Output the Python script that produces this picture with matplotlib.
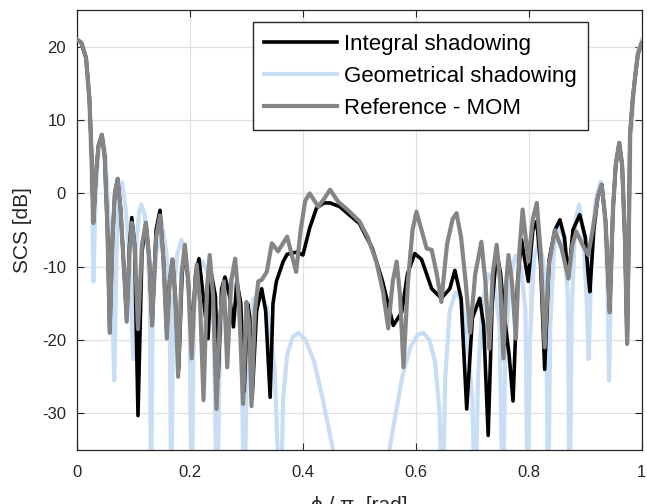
import matplotlib
matplotlib.use("Agg")
import matplotlib.pyplot as plt

plt.rcParams["font.family"] = ["Liberation Sans", "DejaVu Sans"]
plt.rcParams["axes.unicode_minus"] = False

# Reference - MOM (grey)
x_mom = [0, 0.008, 0.016, 0.022, 0.026, 0.029, 0.034, 0.038, 0.044, 0.049,
         0.054, 0.058, 0.063, 0.067, 0.072, 0.077, 0.083, 0.088, 0.093, 0.097,
         0.102, 0.108, 0.115, 0.122, 0.128, 0.133, 0.14, 0.147, 0.153, 0.159,
         0.164, 0.169, 0.174, 0.179, 0.185, 0.191, 0.197, 0.203, 0.208, 0.212,
         0.218, 0.224, 0.23, 0.235, 0.241, 0.247, 0.253, 0.26, 0.266, 0.273,
         0.28, 0.287, 0.294, 0.3, 0.305, 0.309, 0.315, 0.321, 0.327, 0.336,
         0.345, 0.356, 0.372, 0.388, 0.396, 0.404, 0.412, 0.427, 0.437, 0.448,
         0.462, 0.48, 0.5, 0.515, 0.53, 0.542, 0.551, 0.559, 0.566, 0.572,
         0.578, 0.586, 0.594, 0.601, 0.61, 0.619, 0.628, 0.637, 0.645, 0.655,
         0.665, 0.672, 0.68, 0.688, 0.696, 0.705, 0.716, 0.723, 0.73, 0.736,
         0.743, 0.749, 0.755, 0.76, 0.764, 0.77, 0.777, 0.783, 0.789, 0.799,
         0.807, 0.814, 0.821, 0.828, 0.835, 0.846, 0.858, 0.87, 0.877, 0.884,
         0.895, 0.905, 0.913, 0.922, 0.929, 0.936, 0.943, 0.949, 0.954, 0.96,
         0.965, 0.97, 0.974, 0.977, 0.979, 0.984, 0.988, 0.993, 1.0]
y_mom = [21, 20.5, 18.5, 13, 5, -4, 3, 6.5, 8, 5,
         -5, -19, -6, 0, 2, -2, -10, -17.5, -8, -4,
         -7, -18.5, -7, -4, -9, -18, -6, -3, -9, -19.8,
         -12, -9, -14, -25, -11, -7, -12, -22.5, -14, -9.7,
         -15, -28.2, -13, -8.4, -14, -29.4, -17, -12, -23.7, -12,
         -8.9, -15, -28.7, -14.8, -18, -29, -16, -12, -11.8, -10.7,
         -6.8, -7.9, -5.9, -10.7, -5, -1, 0, -1.8, -0.8, 0.5,
         -1.1, -2.3, -3.8, -6, -9.3, -13.5, -18.4, -12, -9.3, -14,
         -23.7, -12, -5, -2.5, -5, -7.5, -7.7, -11, -14.8, -7,
         -3.5, -2.7, -6, -12, -19, -11, -6.6, -12, -21.2, -11,
         -7, -12, -22.5, -12, -8.4, -12, -19.8, -8, -2.2, -9.3,
         -3.5, -1.3, -8, -21, -10, -5, -7.5, -11.6, -7, -5.2,
         -7, -8.4, -5, -0.5, 1.2, -4, -16.2, -2, 4, 6.9,
         4, -6, -20.5, -5.6, 8, 13, 15.8, 19, 20.5]

# Integral shadowing (black)
x_int = [0, 0.008, 0.016, 0.022, 0.026, 0.029, 0.034, 0.038, 0.044, 0.049,
         0.054, 0.058, 0.063, 0.067, 0.072, 0.077, 0.083, 0.088, 0.093, 0.097,
         0.102, 0.108, 0.115, 0.122, 0.128, 0.133, 0.14, 0.147, 0.153, 0.159,
         0.164, 0.169, 0.174, 0.18, 0.186, 0.191, 0.197, 0.203, 0.21, 0.216,
         0.222, 0.232, 0.238, 0.245, 0.25, 0.256, 0.262, 0.27, 0.277, 0.283,
         0.29, 0.296, 0.302, 0.306, 0.31, 0.318, 0.327, 0.334, 0.342, 0.347,
         0.353, 0.365, 0.372, 0.389, 0.4, 0.412, 0.424, 0.437, 0.448, 0.465,
         0.5, 0.523, 0.541, 0.56, 0.575, 0.585, 0.598, 0.61, 0.628, 0.645,
         0.66, 0.669, 0.68, 0.69, 0.7, 0.713, 0.72, 0.728, 0.735, 0.743,
         0.75, 0.757, 0.765, 0.772, 0.78, 0.787, 0.799, 0.807, 0.814, 0.821,
         0.828, 0.836, 0.846, 0.855, 0.863, 0.87, 0.878, 0.89, 0.9, 0.905,
         0.908, 0.915, 0.922, 0.929, 0.936, 0.943, 0.949, 0.954, 0.96, 0.965,
         0.97, 0.974, 0.977, 0.979, 0.984, 0.988, 0.993, 1.0]
y_int = [21, 20.5, 18.5, 13, 5, -4, 3, 6.5, 8, 5,
         -5, -19, -6, 0, 2, -2, -10, -17, -7, -3.3,
         -7, -30.3, -8, -4, -9, -18, -5, -2.3, -9, -19,
         -12, -9, -14, -24, -11, -7.5, -12, -20, -11, -8.9,
         -13, -19.8, -11, -14, -25, -13, -11.4, -14, -18.2, -12,
         -15, -27, -15, -17, -28, -16, -13, -16, -27.8, -15,
         -12, -9.3, -8.3, -8, -8.4, -4.7, -2, -1.3, -1.3, -1.8,
         -4.1, -7.5, -12, -18, -16.2, -11, -8.2, -9, -13, -14.3,
         -13, -10.5, -14.3, -29.4, -17, -14.3, -18, -33, -15, -8,
         -11, -17, -22, -28.3, -12, -6.3, -12, -5, -3.8, -10,
         -24, -9, -5, -3.6, -6, -11.6, -5, -2.9, -6, -11,
         -13.4, -5, -0.5, 1.2, -4, -16.2, -2, 4, 6.9, 4,
         -6, -20.5, -5.6, 8, 13, 15.8, 19, 20.5]

# Geometrical shadowing (light blue), nulls run below the axis
x_geo = [0, 0.008, 0.016, 0.022, 0.026, 0.029, 0.033, 0.038, 0.044, 0.05,
         0.056, 0.062, 0.066, 0.07, 0.075, 0.08, 0.086, 0.093, 0.0997, 0.105,
         0.11, 0.114, 0.12, 0.126, 0.129, 0.131, 0.134, 0.14, 0.15, 0.158,
         0.164, 0.167, 0.17, 0.177, 0.185, 0.192, 0.199, 0.203, 0.207, 0.215,
         0.223, 0.232, 0.242, 0.248, 0.253, 0.262, 0.272, 0.282, 0.291, 0.296,
         0.301, 0.312, 0.324, 0.336, 0.35, 0.36, 0.365, 0.372, 0.382, 0.392,
         0.405, 0.42, 0.435, 0.448, 0.456, 0.47, 0.54, 0.551, 0.562, 0.576,
         0.59, 0.603, 0.613, 0.624, 0.634, 0.642, 0.647, 0.652, 0.66, 0.67,
         0.68, 0.69, 0.7, 0.705, 0.71, 0.718, 0.728, 0.738, 0.748, 0.754,
         0.758, 0.766, 0.776, 0.786, 0.794, 0.798, 0.802, 0.809, 0.817, 0.825,
         0.831, 0.834, 0.838, 0.845, 0.853, 0.862, 0.869, 0.872, 0.876, 0.882,
         0.889, 0.896, 0.902, 0.906, 0.911, 0.918, 0.927, 0.934, 0.939, 0.942,
         0.947, 0.953, 0.96, 0.966, 0.971, 0.974, 0.977, 0.98, 0.985, 0.989,
         0.994, 1.0]
y_geo = [21, 20.5, 18.5, 12, 2, -12, 0, 6, 8, 5.5,
         -3, -15, -25.5, -8, 1, 1.5, -2, -9, -22.6, -7,
         -2.5, -1.5, -3, -8, -15, -45, -15, -8.5, -4, -8,
         -15, -45, -15, -8.5, -6.3, -8.5, -15, -45, -16, -10.5,
         -9.3, -11, -18, -45, -20, -13, -11.6, -13.5, -20, -45,
         -22, -14.5, -13.4, -15.5, -24, -45, -28, -22, -19.6, -19,
         -20, -23, -28, -33, -36, -45, -45, -36, -31, -25,
         -21, -19.3, -19, -20, -23, -30, -45, -25, -16, -13.5,
         -14.5, -19, -28, -45, -25, -15, -11, -12, -18, -45,
         -22, -12, -8.5, -10, -16, -45, -20, -9, -6.6, -9,
         -16, -45, -18, -7, -4.5, -6, -14, -45, -16, -4,
         -1.5, -5, -14, -22.6, -8, -1, 1.6, -2, -12, -25.5,
         -6, 3.5, 6.5, 3, -8, -20, -5, 7, 13, 16.5,
         19.5, 21]

fig = plt.figure(figsize=(6.47, 5.04), dpi=100)
ax = fig.add_axes([0.119, 0.107, 0.873, 0.873])

ax.plot(x_int, y_int, color="black", lw=2.6, zorder=3,
        solid_joinstyle="round", label="Integral shadowing")
ax.plot(x_geo, y_geo, color="#c8def5", lw=3.0, zorder=2,
        solid_joinstyle="round", label="Geometrical shadowing")
ax.plot(x_mom, y_mom, color="#858585", lw=3.0, zorder=4,
        solid_joinstyle="round", label="Reference - MOM")

ax.set_xlim(0, 1)
ax.set_ylim(-35, 25)
ax.set_xticks([0, 0.2, 0.4, 0.6, 0.8, 1])
ax.set_xticklabels(["0", "0.2", "0.4", "0.6", "0.8", "1"])
ax.set_yticks([-30, -20, -10, 0, 10, 20])
ax.grid(True, color="#e0e0e0", lw=0.9)
ax.set_axisbelow(True)
ax.tick_params(direction="in", top=True, right=True, length=5,
               labelsize=12, colors="#262626")
ax.tick_params(axis="y", pad=8)
ax.tick_params(axis="x", pad=11)
for s in ax.spines.values():
    s.set_color("#262626")
    s.set_linewidth(0.9)

ax.set_ylabel("SCS [dB]", fontsize=15, color="#262626", labelpad=7)
ax.set_xlabel("ϕ / π  [rad]", fontsize=15, color="#262626", labelpad=11)

leg = ax.legend(loc="upper right", bbox_to_anchor=(0.904, 0.972), borderaxespad=0,
                fontsize=16, handlelength=3.3, handletextpad=0.3, borderpad=0.5,
                labelspacing=0.5, fancybox=False, framealpha=1)
leg.get_frame().set_edgecolor("#262626")
leg.get_frame().set_linewidth(1.0)

fig.savefig("out.png", dpi=100)
